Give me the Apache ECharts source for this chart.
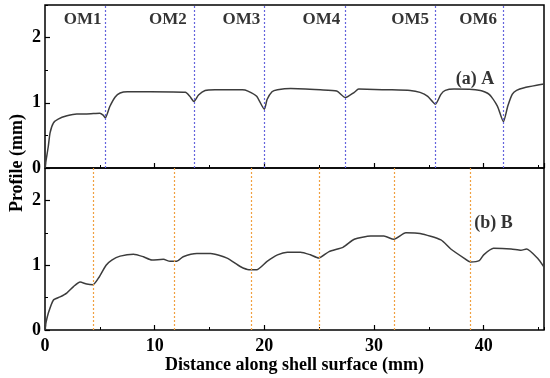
<!DOCTYPE html>
<html>
<head>
<meta charset="utf-8">
<script src="https://cdn.jsdelivr.net/npm/echarts@6/dist/echarts.min.js"></script>
<style>html,body{margin:0;padding:0;background:#fff}#c{width:550px;height:378px}</style>
</head>
<body>
<div id="c"></div>
<script>
// Profile A (top panel): [distance mm, profile mm]
var profileA = [[0,0],[0.1,0.12],[0.3,0.33],[0.46,0.54],[0.76,0.69],[1.2,0.75],[2.0,0.80],[2.9,0.83],[3.8,0.83],[5.0,0.84],[5.3,0.81],[5.5,0.77],[5.9,0.94],[6.4,1.09],[6.85,1.15],[7.5,1.17],[9.6,1.17],[12.8,1.16],[13.2,1.10],[13.58,1.02],[14.0,1.12],[14.6,1.19],[15.5,1.20],[18.0,1.20],[18.5,1.18],[19.3,1.10],[20.0,0.90],[20.25,1.05],[20.7,1.17],[21.2,1.20],[22.4,1.22],[25.1,1.20],[26.6,1.18],[27.4,1.08],[28.2,1.16],[28.6,1.21],[31.2,1.20],[33.3,1.19],[34.2,1.16],[34.9,1.10],[35.6,0.98],[36.1,1.13],[36.5,1.19],[37.3,1.21],[39.7,1.19],[40.5,1.13],[41.25,0.95],[41.8,0.71],[42.2,0.95],[42.6,1.13],[43.0,1.19],[43.7,1.23],[45.2,1.28],[45.5,1.29]];
// Profile B (bottom panel)
var profileB = [[0,0],[0.1,0.12],[0.3,0.26],[0.76,0.46],[1.37,0.51],[1.98,0.57],[2.6,0.67],[3.2,0.74],[3.8,0.71],[4.38,0.70],[4.87,0.80],[5.57,1.00],[6.09,1.08],[6.85,1.14],[8.07,1.17],[8.98,1.13],[9.74,1.08],[10.8,1.09],[11.4,1.06],[12.0,1.06],[12.6,1.13],[13.85,1.18],[15.1,1.18],[16.6,1.11],[17.8,0.98],[18.6,0.93],[19.3,0.93],[20.25,1.06],[21.2,1.16],[22.1,1.20],[23.3,1.20],[24.2,1.16],[24.96,1.11],[25.9,1.21],[27.2,1.28],[28.2,1.40],[29.7,1.45],[30.9,1.45],[31.8,1.40],[32.9,1.50],[34.2,1.49],[36.1,1.39],[37.0,1.25],[38.2,1.11],[38.8,1.05],[39.6,1.07],[40.0,1.16],[40.9,1.26],[42.5,1.25],[43.4,1.23],[43.9,1.25],[44.9,1.11],[45.5,0.97]];
// Vertical boundary lines
var boundariesA = [5.5, 13.6, 20.0, 27.4, 35.6, 41.8];
var boundariesB = [4.4, 11.75, 18.8, 25.0, 31.8, 38.8];
// Region labels (top panel)
var omLabels = ['OM1','OM2','OM3','OM4','OM5','OM6'];
var omLabelX = [3.44, 11.2, 17.9, 25.2, 33.3, 39.5];
var omLabelY = 2.28;
var panelLabels = [['(a) A', 39.2, 1.36], ['(b) B', 40.9, 1.64]];

var FONT = "'Liberation Serif','Times New Roman',serif";
var chart = echarts.init(document.getElementById('c'), null, {renderer:'canvas'});

function xMajor(grid, labels) {
  var a = {gridIndex:grid, type:'value', position:'bottom', min:0, max:45.5, interval:10,
    axisLine:{show:false}, splitLine:{show:false},
    axisTick:{show:true, inside:true, length:5, lineStyle:{color:'#000', width:1.2}},
    axisLabel:{show:labels, showMaxLabel:false, margin:7, color:'#000', fontFamily:FONT, fontWeight:'bold', fontSize:18}};
  if (labels) {
    a.name = 'Distance along shell surface (mm)';
    a.nameLocation = 'middle'; a.nameGap = 25;
    a.nameTextStyle = {color:'#000', fontFamily:FONT, fontWeight:'bold', fontSize:18};
  }
  return a;
}
function xMinor(grid) {
  return {gridIndex:grid, type:'value', position:'bottom', min:0, max:45.5, interval:5,
    axisLine:{show:false}, splitLine:{show:false}, axisLabel:{show:false},
    axisTick:{show:true, inside:true, length:3, lineStyle:{color:'#000', width:1}}};
}
function yMajor(grid) {
  return {gridIndex:grid, type:'value', position:'left', min:0, max:2.5, interval:1,
    axisLine:{show:false}, splitLine:{show:false},
    axisTick:{show:true, inside:true, length:5, lineStyle:{color:'#000', width:1.2}},
    axisLabel:{show:true, showMaxLabel:false, margin:4, color:'#000', fontFamily:FONT, fontWeight:'bold', fontSize:18}};
}
function yMinor(grid) {
  return {gridIndex:grid, type:'value', position:'left', min:0, max:2.5, interval:0.5,
    axisLine:{show:false}, splitLine:{show:false}, axisLabel:{show:false},
    axisTick:{show:true, inside:true, length:3, lineStyle:{color:'#000', width:1}}};
}
function vlines(vals, color) {
  return {symbol:'none', silent:true, label:{show:false},
    lineStyle:{color:color, type:[2,2], width:1.2},
    data: vals.map(function(v){return {xAxis:v};})};
}
function textSeries(xi, yi, pts, size) {
  return {type:'scatter', xAxisIndex:xi, yAxisIndex:yi, symbolSize:0, silent:true, data:pts,
    label:{show:true, position:'inside', formatter:function(p){return p.value[2];},
      color:'#000', fontFamily:FONT, fontWeight:'bold', fontSize:size}};
}

var option = {
  animation:false,
  backgroundColor:'#fff',
  grid:[
    {left:45, right:6, top:5, height:163, show:true, borderColor:'#000', borderWidth:1.5, backgroundColor:'transparent'},
    {left:45, right:6, top:168, height:162, show:true, borderColor:'#000', borderWidth:1.5, backgroundColor:'transparent'}
  ],
  xAxis:[xMajor(0,false), xMinor(0), xMajor(1,true), xMinor(1)],
  yAxis:[yMajor(0), yMinor(0), yMajor(1), yMinor(1)],
  graphic:[{type:'text', x:17, y:163, rotation:Math.PI/2,
    style:{text:'Profile (mm)', fill:'#000', font:'bold 18px '+FONT, textAlign:'center', textVerticalAlign:'middle'}}],
  series:[
    {type:'line', xAxisIndex:0, yAxisIndex:0, data:profileA, symbol:'none', smooth:0.2,
      lineStyle:{color:'#3c3c3c', width:1.5}, markLine:vlines(boundariesA, '#6464dc'), z:3},
    {type:'line', xAxisIndex:2, yAxisIndex:2, data:profileB, symbol:'none', smooth:0.2,
      lineStyle:{color:'#3c3c3c', width:1.5}, markLine:vlines(boundariesB, '#f0a040'), z:3},
    textSeries(0, 0, omLabels.map(function(t,i){return [omLabelX[i], omLabelY, t];}), 17),
    textSeries(0, 0, [[panelLabels[0][1], panelLabels[0][2], panelLabels[0][0]]], 18),
    textSeries(2, 2, [[panelLabels[1][1], panelLabels[1][2], panelLabels[1][0]]], 18)
  ]
};
chart.setOption(option);
</script>
</body>
</html>
